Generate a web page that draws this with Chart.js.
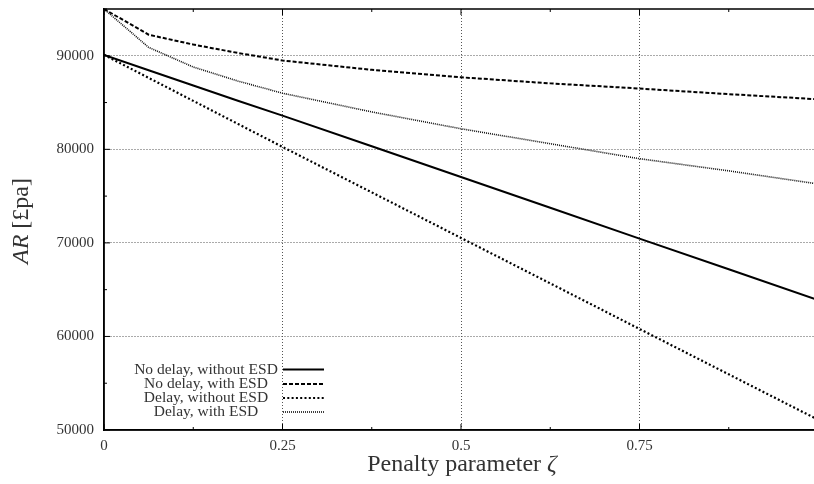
<!DOCTYPE html>
<html>
<head>
<meta charset="utf-8">
<script src="https://cdn.jsdelivr.net/npm/chart.js@4"></script>
<style>
  html, body { margin: 0; padding: 0; background: #fff; overflow: hidden; }
  #wrap { width: 822px; height: 484px; }
</style>
</head>
<body>
<div id="wrap"><canvas id="c" width="822" height="484"></canvas></div>
<script>
// 橫軸: 懲罰參數 zeta
const zeta = [0, 0.0625, 0.125, 0.1875, 0.25, 0.375, 0.5, 0.625, 0.75, 0.875, 1];
// 四條曲線 (從圖上讀出的數值)
const noDelayNoEsd = [90100, 88460, 86830, 85200, 83600, 80330, 77050, 73750, 70450, 67180, 63900];
const noDelayEsd   = [95000, 92250, 91200, 90300, 89500, 88500, 87700, 87050, 86500, 85900, 85350];
const delayNoEsd   = [90100, 87640, 85180, 82720, 80260, 75400, 70530, 65670, 60800, 55950, 51100];
const delayEsd     = [95000, 90900, 88800, 87300, 86000, 84000, 82200, 80600, 79000, 77700, 76300];
const seriesNames = ['No delay, without ESD', 'No delay, with ESD', 'Delay, without ESD', 'Delay, with ESD'];
const xTicks = [0, 0.25, 0.5, 0.75];
const yTicks = [50000, 60000, 70000, 80000, 90000];

const serif = '"Liberation Serif", "DejaVu Serif", serif';

function pts(ys) {
    return zeta.map((x, i) => ({ x: x, y: ys[i] }));
}

// 自訂圖例、座標軸標題、內向刻度
const decor = {
    id: 'decor',
    afterDatasetsDraw(chart) {
        const c = chart.ctx;
        const a = chart.chartArea;
        const sx = chart.scales.x, sy = chart.scales.y;
        c.save();
        // 外框
        c.strokeStyle = '#000';
        c.lineWidth = 1.5;
        c.setLineDash([]);
        c.strokeRect(a.left, a.top, a.right - a.left, a.bottom - a.top);
        // 內向刻度
        c.lineWidth = 1;
        for (let v = 0; v <= 1.0001; v += 0.125) {
            const px = sx.getPixelForValue(v);
            const len = (Math.round(v * 8) % 2 === 0) ? 6 : 3;
            c.beginPath();
            c.moveTo(px, a.bottom); c.lineTo(px, a.bottom - len);
            c.moveTo(px, a.top); c.lineTo(px, a.top + len);
            c.stroke();
        }
        for (let v = 50000; v <= 95000; v += 5000) {
            const py = sy.getPixelForValue(v);
            const len = (v % 10000 === 0) ? 6 : 3;
            c.beginPath();
            c.moveTo(a.left, py); c.lineTo(a.left + len, py);
            c.stroke();
        }
        // 圖例
        c.font = '15.5px ' + serif;
        c.fillStyle = '#333';
        c.textAlign = 'center';
        c.textBaseline = 'middle';
        const rowY = [369.5, 384, 398, 412];
        chart.data.datasets.forEach((ds, i) => {
            c.fillText(ds.label, 206, rowY[i]);
            c.strokeStyle = ds.borderColor;
            c.lineWidth = ds.borderWidth;
            c.setLineDash(ds.borderDash || []);
            c.beginPath();
            c.moveTo(283, rowY[i]);
            c.lineTo(324, rowY[i]);
            c.stroke();
        });
        c.setLineDash([]);
        // x 軸標題
        c.fillStyle = '#333';
        c.textBaseline = 'middle';
        const t1 = 'Penalty parameter ';
        c.font = 'italic 24px ' + serif;
        const wz = c.measureText('ζ').width;
        c.font = '24px ' + serif;
        const w1 = c.measureText(t1).width;
        let x0 = 462 - (w1 + wz) / 2;
        c.textAlign = 'left';
        c.fillText(t1, x0, 465);
        c.font = 'italic 24px ' + serif;
        c.fillText('ζ', x0 + w1, 465);
        // y 軸標題
        c.translate(22, 221);
        c.rotate(-Math.PI / 2);
        c.font = 'italic 24px ' + serif;
        const wa = c.measureText('AR').width;
        c.font = '24px ' + serif;
        const wb = c.measureText(' [£pa]').width;
        const y0 = -(wa + wb) / 2;
        c.font = 'italic 24px ' + serif;
        c.fillText('AR', y0, 0);
        c.font = '24px ' + serif;
        c.fillText(' [£pa]', y0 + wa, 0);
        c.restore();
    }
};

const config = {
    type: 'line',
    data: {
        datasets: [
            { label: seriesNames[0], data: pts(noDelayNoEsd), borderColor: '#000', borderWidth: 2, borderDash: [] },
            { label: seriesNames[1], data: pts(noDelayEsd), borderColor: '#000', borderWidth: 2, borderDash: [4, 2] },
            { label: seriesNames[2], data: pts(delayNoEsd), borderColor: '#000', borderWidth: 2.2, borderDash: [2, 2.3] },
            { label: seriesNames[3], data: pts(delayEsd), borderColor: '#111', borderWidth: 1.6, borderDash: [1, 1] }
        ]
    },
    options: {
        animation: false,
        responsive: false,
        elements: { point: { radius: 0 }, line: { tension: 0 } },
        layout: { padding: { left: 0, right: 4, top: 9, bottom: 0 } },
        plugins: { legend: { display: false }, tooltip: { enabled: false } },
        scales: {
            x: {
                type: 'linear',
                min: 0, max: 1,
                afterFit(scale) { scale.height = 54; scale.paddingLeft = 0; scale.paddingRight = 0; },
                afterBuildTicks(scale) { scale.ticks = xTicks.map(v => ({ value: v })); },
                grid: {
                    drawTicks: false,
                    color: ctx => (ctx.tick && ctx.tick.value === 0) ? 'rgba(0,0,0,0)' : '#555',
                    lineWidth: 1
                },
                border: { display: true, color: '#000', width: 1.5, dash: [1, 2] },
                ticks: {
                    padding: 7,
                    color: '#333',
                    font: { family: serif, size: 15 },
                    callback: v => String(v)
                }
            },
            y: {
                type: 'linear',
                min: 50000, max: 95000,
                afterFit(scale) { scale.width = 104; scale.paddingTop = 0; scale.paddingBottom = 0; },
                afterBuildTicks(scale) { scale.ticks = yTicks.map(v => ({ value: v })); },
                grid: {
                    drawTicks: false,
                    color: ctx => (ctx.tick && ctx.tick.value === 50000) ? 'rgba(0,0,0,0)' : '#555',
                    lineWidth: 1
                },
                border: { display: true, color: '#000', width: 1.5, dash: [1, 2] },
                ticks: {
                    padding: 10,
                    color: '#333',
                    font: { family: serif, size: 15 },
                    callback: v => String(v)
                }
            }
        }
    },
    plugins: [decor]
};

new Chart(document.getElementById('c'), config);
</script>
</body>
</html>
